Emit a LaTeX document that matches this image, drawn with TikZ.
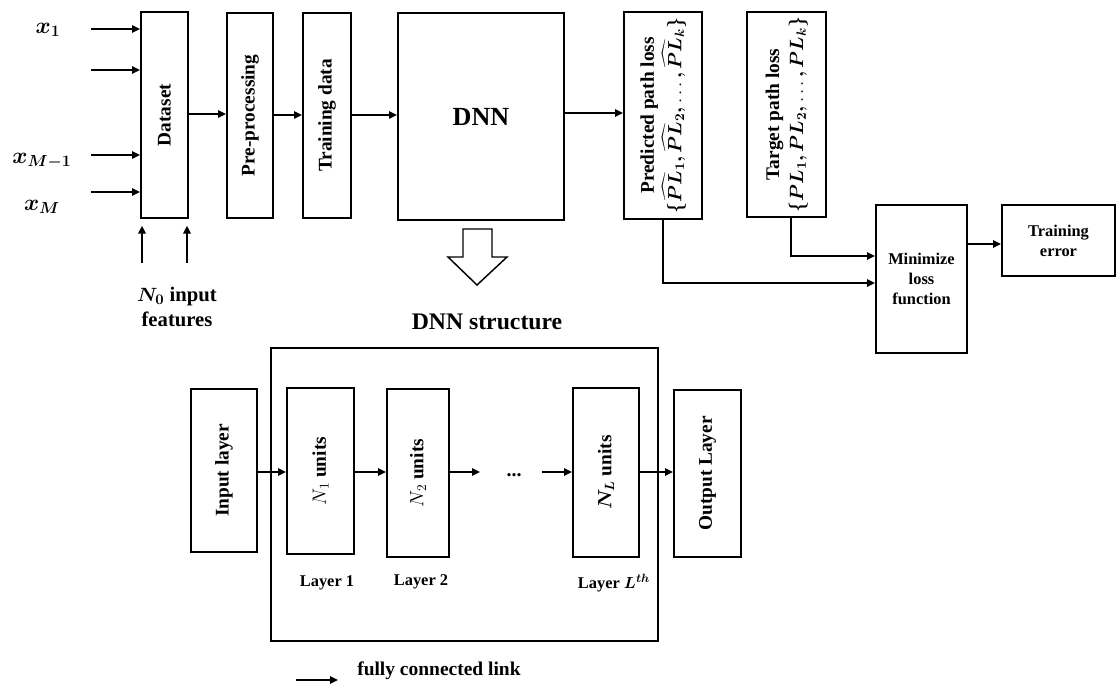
\documentclass[tikz,border=0pt]{standalone}
\usepackage{fontspec}
\setmainfont{Liberation Serif}
\usepackage{amsmath,bm}
\usepackage{graphicx}
\usetikzlibrary{arrows.meta}
\newcommand\bx[7][]{\node[box,#1,minimum width={(#5-#3)*0.75pt},minimum height={(#6-#4)*0.75pt}] (#2) at ({(#3+#5)/2},{(#4+#6)/2}) {#7};}
\begin{document}
\begin{tikzpicture}[x=0.75pt,y=-0.75pt,
  font=\bfseries,
  box/.style={draw,line width=1.4pt,inner sep=0pt,align=center,fill=white,font=\bfseries\fontsize{14.5}{17}\selectfont},
  small/.style={font=\bfseries\fontsize{12.3}{15}\selectfont,align=center},
  midf/.style={font=\bfseries\fontsize{15.5}{18.7}\selectfont,align=center},
  arr/.style={line width=1.4pt,-{Triangle[length=6pt,width=5.5pt]}},
  lbl/.style={font=\fontsize{18.5}{21}\selectfont,inner sep=0pt}]
\useasboundingbox (0,0) rectangle (1118,690);
% top row
\bx{ds}{141}{12}{188}{218}{\rotatebox{90}{Dataset}}
\bx{pp}{227}{13}{273}{218}{\rotatebox{90}{Pre-processing}}
\bx{td}{303}{13}{351}{218}{\rotatebox{90}{Training data}}
\bx{dnn}{398}{13}{564}{220}{\fontsize{19.6}{22}\selectfont DNN}
\bx{pred}{624}{12}{702}{219}{\rotatebox{90}{\begin{tabular}{@{}c@{}}Predicted path loss\\[1pt] $\bm{\{\widehat{PL}_1, \widehat{PL}_2,} \ldots \bm{, \widehat{PL}_k\}}$\end{tabular}}}
\bx{tgt}{747}{12}{826}{217}{\rotatebox{90}{\begin{tabular}{@{}c@{}}Target path loss\\[1pt] $\bm{\{PL_1, PL_2,} \ldots \bm{, PL_k\}}$\end{tabular}}}
\bx[small]{min}{876}{205}{967}{353}{Minimize\\loss\\function}
\bx[small]{te}{1002}{205}{1115}{276}{Training\\error}
% input labels
\node[lbl] (x1) at (48,30) {$\bm{x_1}$};
\node[lbl] (xm1) at (42,161) {$\bm{x_{M-1}}$};
\node[lbl] (xm) at (42,207) {$\bm{x_M}$};
\coordinate (i1) at (91,29);
\coordinate (i2) at (91,70);
\coordinate (i3) at (91,155);
\coordinate (i4) at (91,192);
\draw[arr] (i1) -- (ds.west|-i1);
\draw[arr] (i2) -- (ds.west|-i2);
\draw[arr] (i3) -- (ds.west|-i3);
\draw[arr] (i4) -- (ds.west|-i4);
\coordinate (u1) at (142,263);
\coordinate (u2) at (187,263);
\draw[arr,shorten >=5pt] (u1) -- (u1|-ds.south);
\draw[arr,shorten >=5pt] (u2) -- (u2|-ds.south);
\node[midf] (n0) at (177,307) {$\bm{N_0}$ input\\features};
% top connectors
\coordinate (f1) at (0,114);
\coordinate (f2) at (0,115);
\coordinate (f3) at (0,113);
\draw[arr] (ds.east|-f1) -- (pp.west|-f1);
\draw[arr] (pp.east|-f2) -- (td.west|-f2);
\draw[arr] (td.east|-f2) -- (dnn.west|-f2);
\draw[arr] (dnn.east|-f3) -- (pred.west|-f3);
\coordinate (g1) at (0,256);
\coordinate (g2) at (0,283);
\coordinate (g3) at (0,244);
\draw[arr] ([xshift=3.4pt]tgt.south) |- (min.west|-g1);
\draw[arr] (pred.south) |- (min.west|-g2);
\draw[arr] (min.east|-g3) -- (te.west|-g3);
% hollow arrow
\draw[line width=1.1pt,line join=miter,fill=white] (463,229) -- (492,229) -- (492,257) -- (507,257) -- (477,285) -- (448,257) -- (463,257) -- cycle;
\node[font=\bfseries\fontsize{17.8}{20}\selectfont] (st) at (487,322) {DNN structure};
% lower structure
\bx[fill=none]{big}{271}{348}{658}{641}{}
\bx{inp}{191}{389}{257}{552}{\rotatebox{90}{Input layer}}
\bx{n1}{287}{388}{354}{554}{\rotatebox{90}{$N_1$ units}}
\bx{n2}{387}{389}{449}{557}{\rotatebox{90}{$N_2$ units}}
\bx{nl}{573}{388}{639}{557}{\rotatebox{90}{$\bm{N_L}$ units}}
\bx{out}{674}{390}{741}{557}{\rotatebox{90}{Output Layer}}
\coordinate (h) at (0,472);
\draw[arr] (inp.east|-h) -- (n1.west|-h);
\draw[arr] (n1.east|-h) -- (n2.west|-h);
\coordinate (d1) at (480,472);
\coordinate (d2) at (542,472);
\draw[arr] (n2.east|-h) -- (d1);
\node[anchor=base,inner sep=0pt,font=\bfseries\fontsize{15}{15}\selectfont] (dots) at (514,476) {...};
\draw[arr] (d2) -- (nl.west|-h);
\draw[arr] (nl.east|-h) -- (out.west|-h);
\node[small] (l1) at (327,583) {Layer 1};
\node[small] (l2) at (421,582) {Layer 2};
\node[small] (ll) at (614,583) {Layer $\bm{L^{th}}$};
% legend
\coordinate (la) at (296,680);
\coordinate (lb) at (338,680);
\draw[arr] (la) -- (lb);
\node[anchor=base west,inner sep=0pt,font=\bfseries\fontsize{14.6}{17}\selectfont] (leg) at (357,675) {fully connected link};
\end{tikzpicture}
\end{document}
